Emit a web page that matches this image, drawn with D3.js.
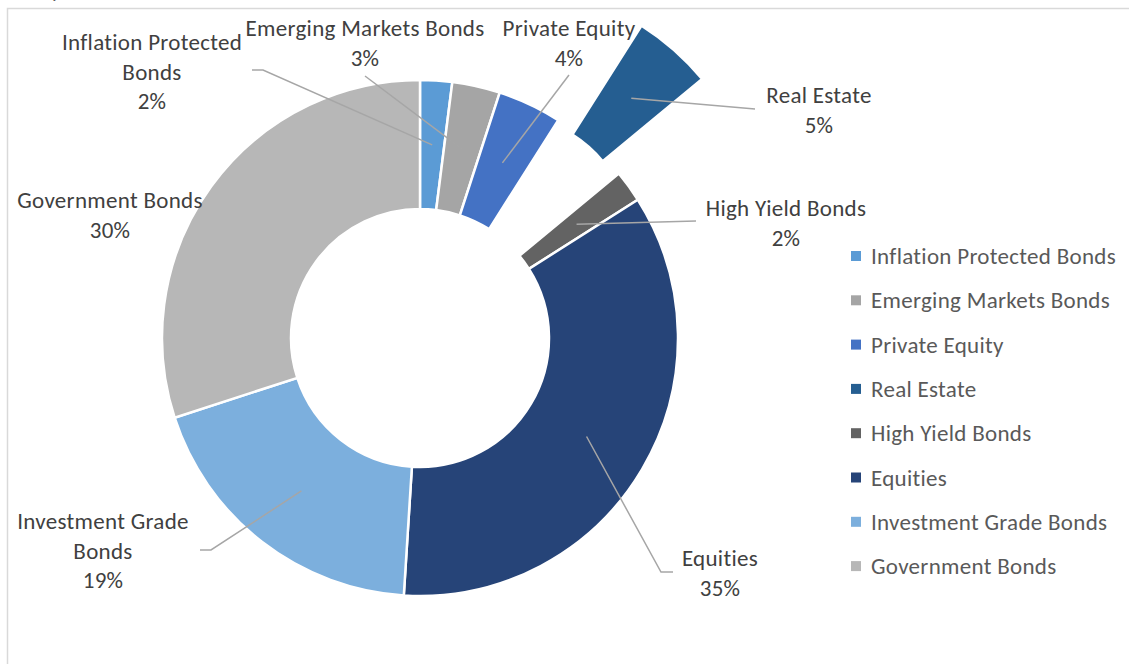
<!DOCTYPE html>
<html><head><meta charset="utf-8">
<script src="https://cdn.jsdelivr.net/npm/d3@7"></script>
<style>html,body{margin:0;padding:0;background:#fff;} svg{display:block}</style>
</head><body>
<svg id="c" width="1129" height="664"></svg>
<script>
// ---- data ----
const categories = ["Inflation Protected Bonds","Emerging Markets Bonds","Private Equity","Real Estate","High Yield Bonds","Equities","Investment Grade Bonds","Government Bonds"];
const values = [2, 3, 4, 5, 2, 35, 19, 30];
const percentLabels = ["2%","3%","4%","5%","2%","35%","19%","30%"];
const labelLines = [["Inflation Protected","Bonds"],["Emerging Markets Bonds"],["Private Equity"],["Real Estate"],["High Yield Bonds"],["Equities"],["Investment Grade","Bonds"],["Government Bonds"]];
const colors = ["#5B9BD5","#A5A5A5","#4472C4","#255E91","#636363","#264478","#7CAFDD","#B7B7B7"];

// ---- layout ----
const cx = 420, cy = 338, R = 258, r0 = 129;
const explodeDist = [0,0,0,126,0,0,0,0];
const labelPos = [[152,42],[365,28],[569,28],[819,95],[786,208],[720,558],[103,521],[110,200]];
// leader line starts (outer end), optional elbow
const leaderStart = [[[252,70],[263,70]],[[365,76]],[[569,75]],[[755,109]],[[696,221]],[[673,572],[661,572]],[[200,550],[211,550]],null];
const lineH = 29.5;
const font = "Carlito, Lato, 'Open Sans', sans-serif";
const fs = 23;
const ls = 0.3;

const svg = d3.select("#c");

// frame
svg.append("path").attr("d","M7.5,664 V8.5 H1129").attr("fill","none").attr("stroke","#d9d9d9").attr("stroke-width",1.5);
// cut-off title fragment (top edge of the view)
svg.append("text").attr("x",52).attr("y",-3).attr("font-family",font).attr("font-style","italic")
  .attr("font-size",22).attr("fill","#595959").text("y");

const pie = d3.pie().sort(null).value(d => d)(values);
const arc = d3.arc().innerRadius(r0).outerRadius(R);
const midArc = d3.arc().innerRadius((R+r0)/2).outerRadius((R+r0)/2);

const g = svg.append("g").attr("transform",`translate(${cx},${cy})`);
const off = (d,i) => {
  const a = (d.startAngle + d.endAngle)/2;
  return [Math.sin(a)*explodeDist[i], -Math.cos(a)*explodeDist[i]];
};
g.selectAll("path.slice").data(pie).join("path")
  .attr("class","slice")
  .attr("d", arc)
  .attr("transform",(d,i)=>{const o=off(d,i);return `translate(${o[0]},${o[1]})`;})
  .attr("fill",(d,i)=>colors[i])
  .attr("stroke","#fff").attr("stroke-width",2.5).attr("stroke-linejoin","miter");

// leader lines
pie.forEach((d,i)=>{
  if(!leaderStart[i]) return;
  const c = midArc.centroid(d); const o = off(d,i);
  const end = [cx + c[0] + o[0], cy + c[1] + o[1]];
  const pts = leaderStart[i].concat([end]);
  svg.append("path").attr("d", d3.line()(pts)).attr("fill","none")
    .attr("stroke","#A6A6A6").attr("stroke-width",1.5);
});

// labels
pie.forEach((d,i)=>{
  const lines = labelLines[i].concat([percentLabels[i]]);
  const t = svg.append("text").attr("font-family",font).attr("font-size",fs).attr("fill","#404040")
    .attr("letter-spacing",ls).attr("text-anchor","middle");
  lines.forEach((ln,k)=>{
    t.append("tspan").attr("x",labelPos[i][0]).attr("y",labelPos[i][1]+k*lineH).attr("dy","0.35em").text(ln);
  });
});

// legend
const lg = svg.append("g");
categories.forEach((c,i)=>{
  const y = 256 + i*44.3;
  lg.append("rect").attr("x",851).attr("y",y-5).attr("width",10).attr("height",10).attr("fill",colors[i]);
  lg.append("text").attr("x",871).attr("y",y).attr("dy","0.35em").attr("font-family",font)
    .attr("letter-spacing",ls).attr("font-size",fs).attr("fill","#595959").text(c);
});
</script>
</body></html>
